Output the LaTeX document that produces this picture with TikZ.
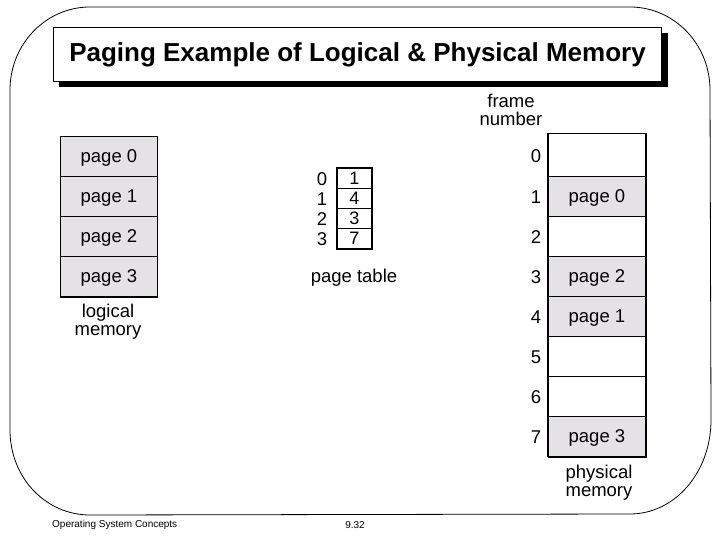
\documentclass[tikz,border=0pt]{standalone}
\usepackage{fontspec}
\setmainfont{Liberation Sans}
\definecolor{cellgrey}{HTML}{E4E2E4}
\tikzset{
  lbl/.style={font=\fontsize{18.5}{19}\selectfont, inner sep=0pt, align=center},
  mem/.style={draw=black, line width=0.9pt, minimum width=97pt, minimum height=40pt, inner sep=0pt, anchor=north west, text depth=0pt, font=\fontsize{18.5}{19}\selectfont},
  used/.style={mem, fill=cellgrey},
  freecell/.style={mem, fill=white},
  pt/.style={draw=black, line width=0.9pt, minimum width=34pt, minimum height=20pt, inner sep=0pt, anchor=north west, text depth=0pt, font=\fontsize{18}{19}\selectfont},
}
\begin{document}
\begin{tikzpicture}[x=1pt,y=-1pt]
\useasboundingbox (0,0) rectangle (720,540);
% page border
\draw[line width=0.8pt] (90,7) -- (630,7) .. controls (674,7) and (710,44) .. (710,90)
  -- (711,420) .. controls (711,472) and (675,514) .. (630,514) -- (90,515)
  .. controls (46,515) and (10,478) .. (10,430) -- (10,90) .. controls (10,44) and (46,7) .. (90,7) -- cycle;
% title
\fill (59,33) rectangle (668,87);
\node[draw, line width=1pt, fill=white, minimum width=608pt, minimum height=54pt, inner sep=0pt, anchor=north west,
  font=\fontsize{26}{28}\selectfont\bfseries] (title) at (53,27) {Paging Example of Logical \& Physical Memory};
% logical memory
\node[used] (l0) at (60,136) {page 0};
\node[used] (l1) at (60,176) {page 1};
\node[used] (l2) at (60,216) {page 2};
\node[used] (l3) at (60,256) {page 3};
\draw[line width=2pt] (l3.south west) -- (l3.south east);
\node[lbl] (lmem) at (108,322) {logical\\[-1pt]memory};
% page table
\node[pt] (p0) at (337,168) {1};
\node[pt] (p1) at (337,188) {4};
\node[pt] (p2) at (337,208) {3};
\node[pt] (p3) at (337,228) {7};
\draw[line width=1.6pt] (p0.north west) rectangle (p3.south east);
\node[lbl] (i0) at (322,179) {0};
\node[lbl] (i1) at (322,199) {1};
\node[lbl] (i2) at (322,219) {2};
\node[lbl] (i3) at (322,239) {3};
\node[lbl] (ptl) at (354,278) {page table};
% physical memory
\node[lbl] (fn) at (511,110) {frame\\[-1pt]number};
\node[freecell, minimum height=43pt] (f0) at (548,133) {};
\node[used] (f1) at (548,176) {page 0};
\node[freecell] (f2) at (548,216) {};
\node[used] (f3) at (548,256) {page 2};
\node[used] (f4) at (548,296) {page 1};
\node[freecell] (f5) at (548,336) {};
\node[freecell] (f6) at (548,376) {};
\node[used] (f7) at (548,416) {page 3};
\draw[line width=2.2pt] (f0.north east) -- (f7.south east) -- (f7.south west);
\draw[line width=1.4pt] (f0.north west) -- (f7.south west);
\foreach \i in {0,...,7} { \node[lbl] (n\i) at ([xshift=-12pt,yshift=-1pt]f\i.west) {\i}; }
\node[lbl] (pmem) at (599,483) {physical\\[-1pt]memory};
% footer
\node[font=\fontsize{10}{12}\selectfont, inner sep=0pt, anchor=west] (foot) at (52,525) {Operating System Concepts};
\node[font=\fontsize{10}{12}\selectfont, inner sep=0pt] (pg) at (355,525) {9.32};
\end{tikzpicture}
\end{document}
